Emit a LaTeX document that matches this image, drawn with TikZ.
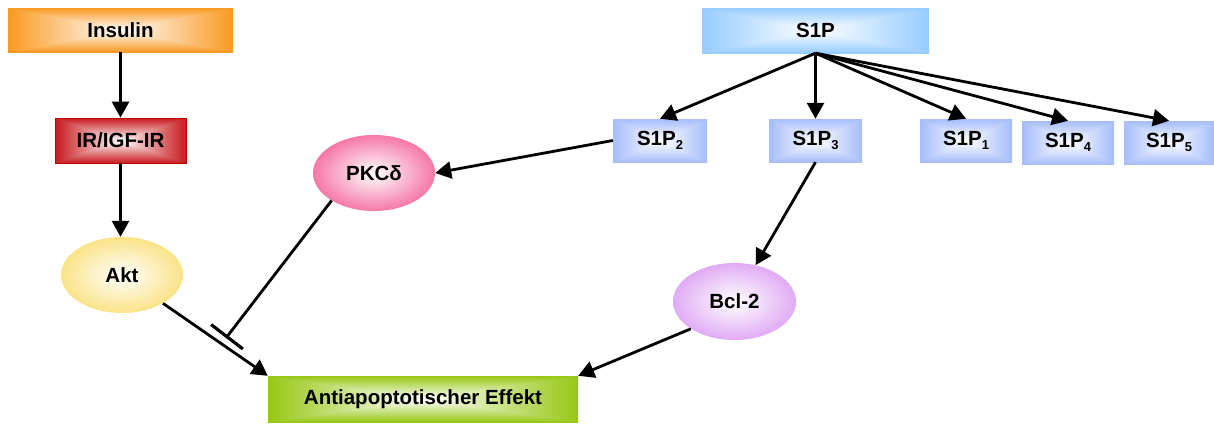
\documentclass[tikz,border=0pt]{standalone}
\usepackage{fontspec}
\setmainfont{Liberation Sans}
\usetikzlibrary{arrows.meta,shapes.geometric}

% Box fill: white centre fading to the colour at the edges (rectangular contours).
% Arguments: name, then 1-r, 1-g, 1-b of the edge colour.
\newcommand\rectshading[4]{%
  \pgfdeclarefunctionalshading{#1}{\pgfpoint{0bp}{0bp}}{\pgfpoint{100bp}{100bp}}{}{%
    50 sub abs exch 50 sub abs 2 copy lt {exch} if pop 25 div
    dup 1 gt {pop 1} if
    dup #2 mul neg 1 add exch dup #3 mul neg 1 add exch #4 mul neg 1 add}}
% Same idea for ellipses (elliptic contours).
\newcommand\ellshading[4]{%
  \pgfdeclarefunctionalshading{#1}{\pgfpoint{0bp}{0bp}}{\pgfpoint{100bp}{100bp}}{}{%
    50 sub dup mul exch 50 sub dup mul add sqrt 25 div
    dup 1 gt {pop 1} if
    dup #2 mul neg 1 add exch dup #3 mul neg 1 add exch #4 mul neg 1 add}}

\rectshading{insulinfill}{0.02}{0.40}{0.87}
\rectshading{receptorfill}{0.22}{0.90}{0.88}
\rectshading{spfill}{0.41}{0.20}{0.00}
\rectshading{spreceptorfill}{0.35}{0.26}{0.02}
\rectshading{effectfill}{0.41}{0.22}{0.92}
\ellshading{aktfill}{0.02}{0.11}{0.47}
\ellshading{pkcfill}{0.04}{0.53}{0.35}
\ellshading{bclfill}{0.12}{0.33}{0.04}

\newcommand\lowidx[1]{\raisebox{-4.5pt}{\fontsize{13}{13}\selectfont #1}}

\begin{document}
\begin{tikzpicture}[x=1pt,y=-1pt,
  label font/.style={font=\bfseries\fontsize{20.5}{24}\selectfont},
  box/.style={rectangle, inner sep=0pt, label font, shade},
  ell/.style={ellipse, inner sep=0pt, minimum width=122pt, minimum height=76pt, label font, shade},
  receptor/.style={box, shading=spreceptorfill, minimum height=43pt},
  arr/.style={line width=2.8pt, -{Triangle[length=16pt,width=17pt]}},
  inhibit/.style={line width=2.8pt, -{Bar[width=40pt,line width=3.2pt]}}]
\useasboundingbox (0,0) rectangle (1214,423);

% insulin branch
\node[box, shading=insulinfill, minimum width=225pt, minimum height=44pt] (ins) at (120.5,30) {Insulin};
\node[box, shading=receptorfill, minimum width=131pt, minimum height=45pt, draw=red!75!black, line width=0.8pt] (ir) at (120.5,140.5) {IR/IGF-IR};
\node[ell, shading=aktfill] (akt) at (122,275) {Akt};

% S1P branch
\node[box, shading=spfill, minimum width=227pt, minimum height=45pt] (sp) at (815.5,30.5) {S1P};
\node[receptor, minimum width=94pt] (sp2) at (660,140.5) {S1P\lowidx{2}};
\node[receptor, minimum width=93pt] (sp3) at (815.5,140.5) {S1P\lowidx{3}};
\node[receptor, minimum width=92pt] (sp1) at (966,140.5) {S1P\lowidx{1}};
\node[receptor, minimum width=92pt] (sp4) at (1068,142.5) {S1P\lowidx{4}};
\node[receptor, minimum width=90pt] (sp5) at (1169,142.5) {S1P\lowidx{5}};
\node[ell, shading=pkcfill] (pkc) at (374,173) {PKCδ};
\node[ell, shading=bclfill, minimum width=123pt, minimum height=77pt] (bcl) at (734.5,301.5) {Bcl-2};

% common outcome
\node[box, shading=effectfill, minimum width=310pt, minimum height=46pt] (eff) at (423,399) {Antiapoptotischer Effekt};
\coordinate (block) at (226,338);

% connectors
\draw[arr] (ins) -- (ir);
\draw[arr] (ir.south) -- (ir.south |- akt.north);
\draw[arr] (akt) -- (eff.north west);
\draw[inhibit] (pkc.213) -- (block);
\draw[arr] (sp.south) -- (sp2.north);
\draw[arr] (sp.south) -- (sp3.north);
\draw[arr] (sp.south) -- (sp1.north);
\draw[arr] (sp.south) -- (sp4.north);
\draw[arr] (sp.south) -- (sp5.north);
\draw[arr] (sp2.west) -- (pkc.east);
\draw[arr] (sp3.south) -- (bcl);
\draw[arr] (bcl.212) -- (eff.north east);
\end{tikzpicture}
\end{document}
